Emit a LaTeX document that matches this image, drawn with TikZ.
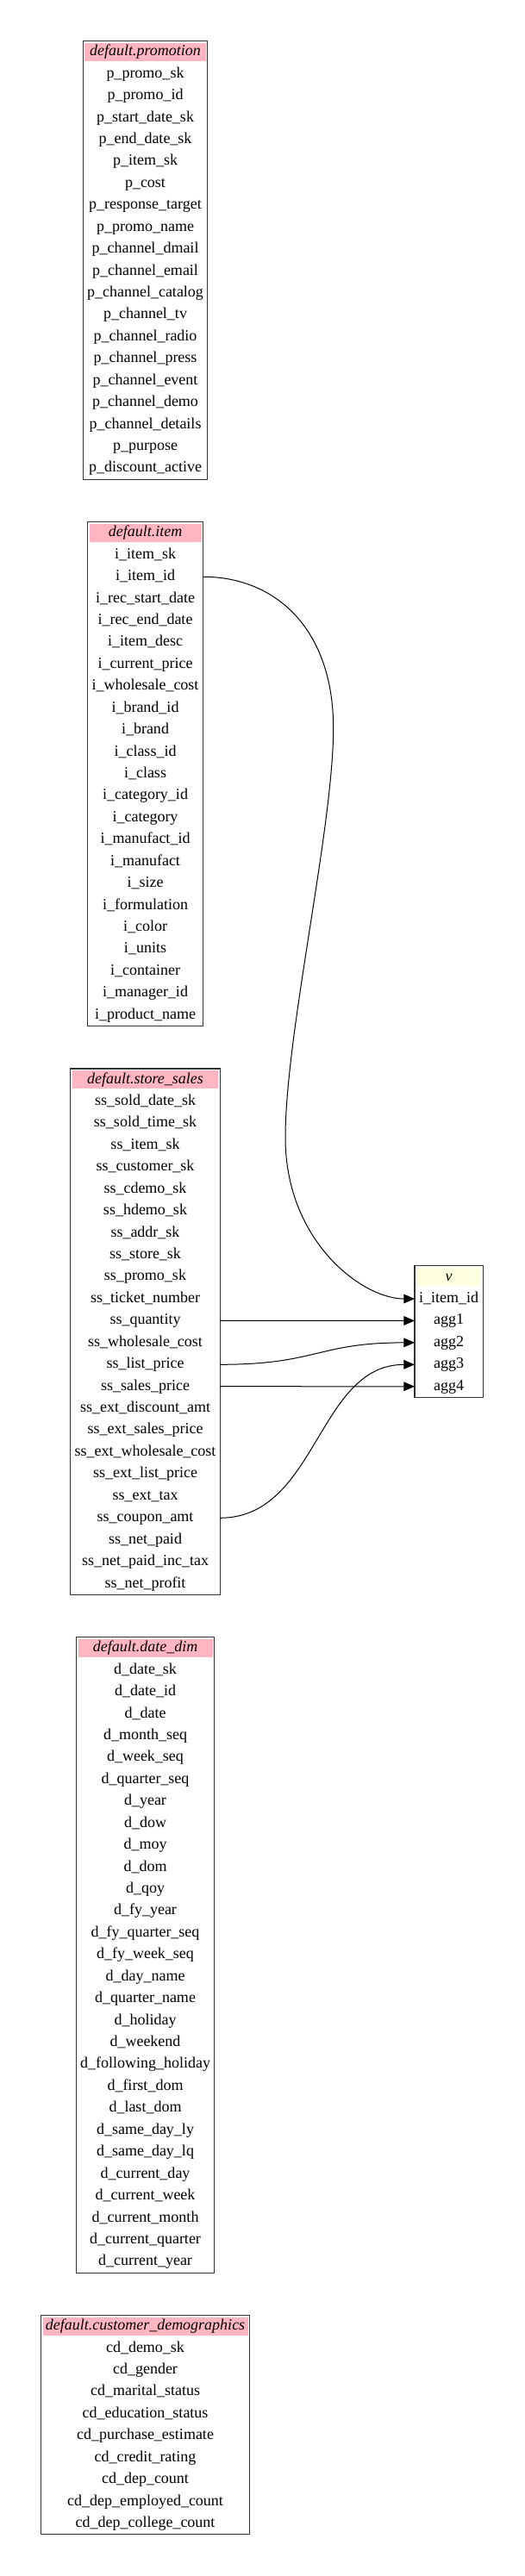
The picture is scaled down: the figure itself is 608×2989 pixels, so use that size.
\documentclass[tikz,border=0pt]{standalone}
\usepackage{xcolor}
\usepackage{fontspec}
\setmainfont{Liberation Serif}
\usepackage{tikz}
\usetikzlibrary{arrows.meta}

\definecolor{hdpink}{HTML}{FFB6C1}
\definecolor{hdyellow}{HTML}{FFFFE0}

\tikzset{
    field/.style={inner sep=0pt, outer sep=0pt, minimum height=19.07pt,
        text height=9.6pt, text depth=3pt, font=\fontsize{13.5}{16}\selectfont},
    header/.style={field, draw=white, line width=3pt, font=\fontsize{13.5}{16}\selectfont\itshape},
    tablebox/.style={draw=black!80, line width=0.8pt},
    link/.style={line width=0.75pt, -{Triangle[length=9.5pt, width=8pt]}}
}

\begin{document}
\begin{tikzpicture}[x=0.75pt, y=-0.75pt]
                    \useasboundingbox (0,0) rectangle (608,2989);
                    % Promotion table
                    \node[header, fill=hdpink, minimum width=108.2pt] (promo-0) at (168.5,60.4) {default.promotion};
                    \foreach \fld [count=\i] in {p\_promo\_sk, p\_promo\_id, p\_start\_date\_sk, p\_end\_date\_sk,
                        p\_item\_sk, p\_cost, p\_response\_target, p\_promo\_name, p\_channel\_dmail,
                        p\_channel\_email, p\_channel\_catalog, p\_channel\_tv, p\_channel\_radio,
                        p\_channel\_press, p\_channel\_event, p\_channel\_demo, p\_channel\_details,
                        p\_purpose, p\_discount\_active}
                        \node[field, minimum width=108.2pt] (promo-\i) at (168.5,60.4+25.43*\i) {\fld};
                    \draw[tablebox] (promo-0.north west) rectangle (promo-19.south east);
                    % Item table
                    \node[header, fill=hdpink, minimum width=100.5pt] (item-0) at (168.5,618.4) {default.item};
                    \foreach \fld [count=\i] in {i\_item\_sk, i\_item\_id, i\_rec\_start\_date, i\_rec\_end\_date,
                        i\_item\_desc, i\_current\_price, i\_wholesale\_cost, i\_brand\_id, i\_brand,
                        i\_class\_id, i\_class, i\_category\_id, i\_category, i\_manufact\_id, i\_manufact,
                        i\_size, i\_formulation, i\_color, i\_units, i\_container, i\_manager\_id,
                        i\_product\_name}
                        \node[field, minimum width=100.5pt] (item-\i) at (168.5,618.4+25.43*\i) {\fld};
                    \draw[tablebox] (item-0.north west) rectangle (item-22.south east);
                    % Store sales table
                    \node[header, fill=hdpink, minimum width=130pt] (ss-0) at (168.5,1252.7) {default.store\_sales};
                    \foreach \fld [count=\i] in {ss\_sold\_date\_sk, ss\_sold\_time\_sk, ss\_item\_sk,
                        ss\_customer\_sk, ss\_cdemo\_sk, ss\_hdemo\_sk, ss\_addr\_sk, ss\_store\_sk,
                        ss\_promo\_sk, ss\_ticket\_number, ss\_quantity, ss\_wholesale\_cost,
                        ss\_list\_price, ss\_sales\_price, ss\_ext\_discount\_amt, ss\_ext\_sales\_price,
                        ss\_ext\_wholesale\_cost, ss\_ext\_list\_price, ss\_ext\_tax, ss\_coupon\_amt,
                        ss\_net\_paid, ss\_net\_paid\_inc\_tax, ss\_net\_profit}
                        \node[field, minimum width=130pt] (ss-\i) at (168.5,1252.7+25.43*\i) {\fld};
                    \draw[tablebox] (ss-0.north west) rectangle (ss-23.south east);
                    % Date dim table
                    \node[header, fill=hdpink, minimum width=120pt] (date-0) at (168.5,1912.4) {default.date\_dim};
                    \foreach \fld [count=\i] in {d\_date\_sk, d\_date\_id, d\_date, d\_month\_seq, d\_week\_seq,
                        d\_quarter\_seq, d\_year, d\_dow, d\_moy, d\_dom, d\_qoy, d\_fy\_year,
                        d\_fy\_quarter\_seq, d\_fy\_week\_seq, d\_day\_name, d\_quarter\_name, d\_holiday,
                        d\_weekend, d\_following\_holiday, d\_first\_dom, d\_last\_dom, d\_same\_day\_ly,
                        d\_same\_day\_lq, d\_current\_day, d\_current\_week, d\_current\_month,
                        d\_current\_quarter, d\_current\_year}
                        \node[field, minimum width=120pt] (date-\i) at (168.5,1912.4+25.43*\i) {\fld};
                    \draw[tablebox] (date-0.north west) rectangle (date-28.south east);
                    % Customer demographics table
                    \node[header, fill=hdpink, minimum width=181.5pt] (cd-0) at (168.5,2699.2) {default.customer\_demographics};
                    \foreach \fld [count=\i] in {cd\_demo\_sk, cd\_gender, cd\_marital\_status,
                        cd\_education\_status, cd\_purchase\_estimate, cd\_credit\_rating, cd\_dep\_count,
                        cd\_dep\_employed\_count, cd\_dep\_college\_count}
                        \node[field, minimum width=181.5pt] (cd-\i) at (168.5,2699.2+25.43*\i) {\fld};
                    \draw[tablebox] (cd-0.north west) rectangle (cd-9.south east);
                    % Result view
                    \node[header, fill=hdyellow, minimum width=59.3pt] (v-0) at (520.5,1481.6) {v};
                    \foreach \fld [count=\i] in {i\_item\_id, agg1, agg2, agg3, agg4}
                        \node[field, minimum width=59.3pt] (v-\i) at (520.5,1481.6+25.43*\i) {\fld};
                    \draw[tablebox] (v-0.north west) rectangle (v-5.south east);
                    % Lineage
                    \draw[link] (item-2.east) .. controls (320,669.3) and (386.7,730) .. (386.7,845)
                        .. controls (386.7,960) and (331,1200) .. (331,1320)
                        .. controls (331,1440) and (420,1507) .. (v-1.west);
                    \draw[link] (ss-11.east) -- (v-2.west);
                    \draw[link] (ss-13.east) .. controls +(113,0) and +(-113,0) .. (v-3.west);
                    \draw[link] (ss-20.east) .. controls +(113,0) and +(-113,0) .. (v-4.west);
                    \draw[link] (ss-14.east) -- (v-5.west);
                \end{tikzpicture}
\end{document}
